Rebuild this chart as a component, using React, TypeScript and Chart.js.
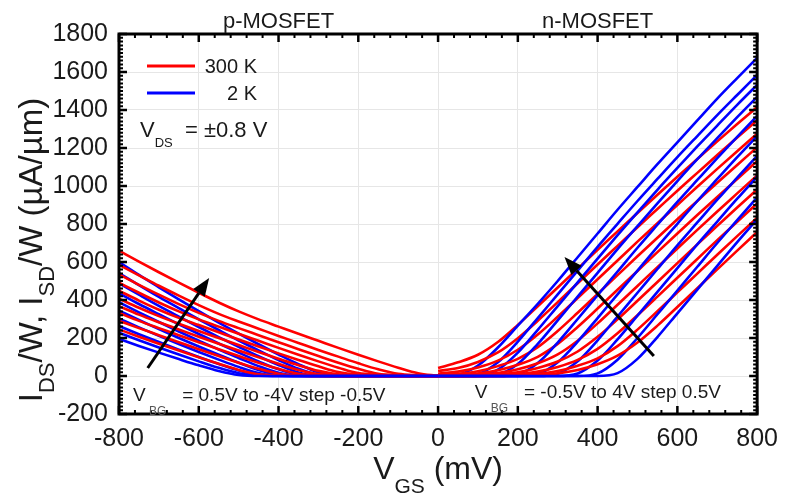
import { useEffect, useRef } from 'react';
import { Chart, registerables } from 'chart.js';

Chart.register(...registerables);

const FONT = "'Liberation Sans', Arial, Helvetica, sans-serif";
const RED = '#ff0000';
const BLUE = '#0000ff';

// Gate voltage samples (mV)
const X_N = [0, 50, 100, 150, 200, 250, 300, 350, 400, 450, 500, 550, 600, 650, 700, 750, 800];
const X_P = [-800, -750, -700, -650, -600, -550, -500, -450, -400, -350, -300, -250, -200, -150, -100, -50, 0];

// Back-gate voltages (V)
const VBG_N = ['-0.5', '0', '0.5', '1', '1.5', '2', '2.5', '3', '3.5', '4'];
const VBG_P = ['0.5', '0', '-0.5', '-1', '-1.5', '-2', '-2.5', '-3', '-3.5', '-4'];

// n-MOSFET, 2 K (uA/um), one row per VBG_N
const N_2K = [
  [0, 0, 0, 0, 0, 0, 0, 0, 0, 15, 90, 205, 330, 455, 580, 705, 825],
  [0, 0, 0, 0, 0, 0, 0, 0, 14, 86, 200, 325, 450, 575, 700, 820, 940],
  [0, 0, 0, 0, 0, 0, 0, 13, 81, 193, 318, 443, 568, 693, 813, 933, 1049],
  [0, 0, 0, 0, 0, 0, 12, 77, 188, 313, 438, 563, 688, 808, 928, 1044, 1159],
  [0, 0, 0, 0, 0, 10, 72, 181, 305, 430, 555, 680, 801, 921, 1037, 1152, 1263],
  [0, 0, 0, 0, 9, 68, 176, 300, 425, 550, 675, 796, 916, 1032, 1147, 1259, 1369],
  [0, 0, 0, 8, 63, 169, 293, 418, 543, 668, 789, 909, 1026, 1141, 1252, 1362, 1469],
  [0, 0, 2, 33, 123, 243, 368, 493, 618, 741, 861, 980, 1095, 1208, 1318, 1427, 1532],
  [0, 0, 10, 72, 181, 305, 430, 555, 680, 801, 921, 1037, 1152, 1263, 1373, 1479, 1584],
  [0, 7, 55, 150, 265, 380, 500, 625, 750, 875, 995, 1115, 1230, 1345, 1460, 1568, 1674],
];

// n-MOSFET, 300 K
const N_300K = [
  [0, 0, 0, 0, 2, 5, 14, 32, 62, 107, 176, 265, 363, 462, 561, 660, 758],
  [0, 0, 0, 1, 4, 11, 26, 54, 93, 157, 244, 341, 440, 539, 638, 736, 833],
  [0, 0, 1, 3, 9, 23, 48, 85, 143, 225, 320, 418, 517, 616, 715, 812, 908],
  [0, 0, 3, 8, 19, 42, 76, 129, 206, 298, 396, 495, 594, 693, 790, 887, 982],
  [0, 2, 6, 16, 35, 67, 114, 186, 277, 375, 474, 573, 671, 769, 866, 961, 1056],
  [1, 5, 13, 30, 59, 101, 169, 258, 355, 454, 553, 652, 750, 847, 942, 1037, 1131],
  [5, 11, 25, 52, 90, 152, 237, 333, 432, 531, 630, 728, 825, 921, 1017, 1111, 1204],
  [12, 23, 45, 81, 138, 218, 312, 410, 509, 608, 707, 804, 900, 996, 1090, 1183, 1275],
  [26, 42, 74, 124, 199, 291, 389, 488, 587, 685, 783, 879, 975, 1069, 1163, 1255, 1346],
  [42, 72, 112, 179, 269, 367, 466, 565, 664, 761, 858, 954, 1049, 1142, 1235, 1326, 1416],
];

// p-MOSFET, 2 K (|I|/W), one row per VBG_P
const P_2K = [
  [195, 158, 123, 89, 56, 26, 5, 0, 0, 0, 0, 0, 0, 0, 0, 0, 0],
  [228, 188, 150, 113, 77, 43, 15, 1, 0, 0, 0, 0, 0, 0, 0, 0, 0],
  [263, 220, 179, 139, 100, 63, 29, 5, 0, 0, 0, 0, 0, 0, 0, 0, 0],
  [302, 256, 211, 168, 126, 86, 48, 16, 1, 0, 0, 0, 0, 0, 0, 0, 0],
  [344, 295, 247, 200, 155, 112, 70, 32, 6, 0, 0, 0, 0, 0, 0, 0, 0],
  [388, 335, 284, 234, 186, 139, 95, 52, 17, 1, 0, 0, 0, 0, 0, 0, 0],
  [436, 379, 325, 272, 221, 171, 123, 77, 35, 6, 0, 0, 0, 0, 0, 0, 0],
  [488, 428, 369, 313, 258, 205, 154, 104, 58, 19, 1, 0, 0, 0, 0, 0, 0],
  [542, 478, 416, 357, 298, 242, 187, 135, 84, 38, 7, 0, 0, 0, 0, 0, 0],
  [600, 532, 467, 403, 341, 281, 223, 167, 113, 62, 20, 1, 0, 0, 0, 0, 0],
];

// p-MOSFET, 300 K
const P_300K = [
  [245, 207, 170, 134, 98, 64, 32, 9, 3, 1, 0, 0, 0, 0, 0, 0, 0],
  [290, 252, 215, 178, 141, 105, 70, 38, 12, 3, 1, 0, 0, 0, 0, 0, 0],
  [332, 290, 252, 215, 178, 141, 105, 70, 38, 12, 4, 1, 0, 0, 0, 0, 0],
  [368, 323, 283, 245, 207, 170, 134, 98, 64, 32, 10, 4, 2, 1, 0, 0, 0],
  [407, 359, 315, 275, 237, 200, 163, 126, 91, 57, 27, 9, 4, 2, 1, 0, 0],
  [449, 397, 349, 306, 268, 230, 192, 155, 119, 84, 51, 21, 7, 3, 1, 1, 0],
  [491, 438, 387, 340, 298, 260, 222, 185, 148, 112, 77, 44, 15, 6, 3, 1, 0],
  [535, 480, 428, 378, 332, 290, 252, 215, 178, 141, 105, 70, 38, 12, 4, 2, 1],
  [585, 530, 475, 423, 373, 327, 287, 249, 211, 174, 137, 102, 67, 35, 11, 4, 1],
  [660, 602, 546, 491, 438, 387, 340, 298, 260, 222, 185, 148, 112, 77, 44, 15, 1],
];

// Axes
const X_MIN = -800, X_MAX = 800, X_STEP = 200, X_MINOR = 40;
const Y_MIN = -200, Y_MAX = 1800, Y_STEP = 200, Y_MINOR = 20;

// Arrow annotations in data coordinates (mV, uA/um)
const ARROWS = [
  { from: [-728, 42], to: [-574, 516] },
  { from: [541, 105], to: [317, 626] },
];

type Part = [string, boolean];

function drawRich(ctx: CanvasRenderingContext2D, parts: Part[], x: number, y: number, align: 'left' | 'center' | 'right', size: number, subSize: number, subShift: number, color: string, subColor: string) {
  const widths = parts.map(([t, sub]) => {
    ctx.font = `${sub ? subSize : size}px ${FONT}`;
    return ctx.measureText(t).width;
  });
  const total = widths.reduce((a, b) => a + b, 0);
  let cx = align === 'center' ? x - total / 2 : align === 'right' ? x - total : x;
  ctx.textAlign = 'left';
  ctx.textBaseline = 'alphabetic';
  parts.forEach(([t, sub], i) => {
    ctx.font = `${sub ? subSize : size}px ${FONT}`;
    ctx.fillStyle = sub ? subColor : color;
    ctx.fillText(t, cx, sub ? y + subShift : y);
    cx += widths[i];
  });
}

function drawArrow(ctx: CanvasRenderingContext2D, x1: number, y1: number, x2: number, y2: number) {
  const ang = Math.atan2(y2 - y1, x2 - x1);
  const hl = 18, hw = 7;
  const bx = x2 - hl * Math.cos(ang), by = y2 - hl * Math.sin(ang);
  ctx.strokeStyle = '#000';
  ctx.lineWidth = 3;
  ctx.beginPath();
  ctx.moveTo(x1, y1);
  ctx.lineTo(bx, by);
  ctx.stroke();
  ctx.fillStyle = '#000';
  ctx.beginPath();
  ctx.moveTo(x2, y2);
  ctx.lineTo(bx + hw * Math.sin(ang), by - hw * Math.cos(ang));
  ctx.lineTo(bx - hw * Math.sin(ang), by + hw * Math.cos(ang));
  ctx.closePath();
  ctx.fill();
}

const framePlugin = {
  id: 'frame',
  afterDraw(chart: any) {
    const { ctx, chartArea: a, scales } = chart;
    const xs = scales.x, ys = scales.y;
    ctx.save();
    ctx.strokeStyle = '#000';
    // x ticks (top and bottom, inward)
    for (let v = X_MIN; v <= X_MAX; v += X_MINOR) {
      const major = v % X_STEP === 0;
      const len = major ? 8 : 4;
      ctx.lineWidth = major ? 2.5 : 2;
      const px = xs.getPixelForValue(v);
      ctx.beginPath();
      ctx.moveTo(px, a.bottom);
      ctx.lineTo(px, a.bottom - len);
      ctx.moveTo(px, a.top);
      ctx.lineTo(px, a.top + len);
      ctx.stroke();
    }
    // y ticks (left and right, inward)
    for (let v = Y_MIN; v <= Y_MAX; v += Y_MINOR) {
      const major = v % Y_STEP === 0;
      const len = major ? 8 : 4;
      ctx.lineWidth = major ? 2.5 : 2;
      const py = ys.getPixelForValue(v);
      ctx.beginPath();
      ctx.moveTo(a.left, py);
      ctx.lineTo(a.left + len, py);
      ctx.moveTo(a.right, py);
      ctx.lineTo(a.right - len, py);
      ctx.stroke();
    }
    // frame
    ctx.lineWidth = 3;
    ctx.strokeRect(a.left, a.top, a.right - a.left, a.bottom - a.top);

    // arrows
    ARROWS.forEach(({ from, to }) => {
      drawArrow(ctx, xs.getPixelForValue(from[0]), ys.getPixelForValue(from[1]), xs.getPixelForValue(to[0]), ys.getPixelForValue(to[1]));
    });

    const dark = '#1a1a1a';
    // top labels
    ctx.font = `22px ${FONT}`;
    ctx.fillStyle = dark;
    ctx.textAlign = 'center';
    ctx.textBaseline = 'alphabetic';
    ctx.fillText('p-MOSFET', xs.getPixelForValue(-400), a.top - 6);
    ctx.fillText('n-MOSFET', xs.getPixelForValue(400), a.top - 6);

    // legend
    const lx = a.left + 28;
    ctx.lineWidth = 3;
    ctx.strokeStyle = RED;
    ctx.beginPath(); ctx.moveTo(lx, a.top + 32); ctx.lineTo(lx + 48, a.top + 32); ctx.stroke();
    ctx.strokeStyle = BLUE;
    ctx.beginPath(); ctx.moveTo(lx, a.top + 59); ctx.lineTo(lx + 48, a.top + 59); ctx.stroke();
    ctx.font = `20px ${FONT}`;
    ctx.fillStyle = dark;
    ctx.textAlign = 'right';
    ctx.fillText('300 K', lx + 110, a.top + 39);
    ctx.fillText('2 K', lx + 110, a.top + 66);

    drawRich(ctx, [['V', false], ['DS', true], ['  = \u00b10.8 V', false]], a.left + 21, a.top + 103, 'left', 22, 13, 10, dark, dark);

    drawRich(ctx, [['V', false], [' BG', true], ['   = 0.5V to -4V step -0.5V', false]], a.left + 14, a.bottom - 13, 'left', 19, 12, 14, dark, '#555');
    drawRich(ctx, [['V', false], [' BG', true], ['   = -0.5V to 4V step 0.5V', false]], xs.getPixelForValue(92), a.bottom - 16, 'left', 19, 12, 14, dark, '#555');

    // x axis title
    drawRich(ctx, [['V', false], ['GS', true], [' (mV)', false]], (a.left + a.right) / 2, 479, 'center', 32, 21, 14, dark, dark);

    // y axis title (rotated)
    ctx.save();
    ctx.translate(42, 250);
    ctx.rotate(-Math.PI / 2);
    drawRich(ctx, [['I', false], ['DS', true], ['/W, I', false], ['SD', true], ['/W (\u00b5A/\u00b5m)', false]], 0, 0, 'center', 33, 22, 12, dark, dark);
    ctx.restore();

    ctx.restore();
  },
};

function buildDatasets() {
  const ds: any[] = [];
  const add = (xs: number[], ys: number[], color: string, label: string) => {
    ds.push({
      label,
      data: xs.map((x, i) => ({ x, y: ys[i] })),
      borderColor: color,
      backgroundColor: color,
      borderWidth: 2.6,
      pointRadius: 0,
      fill: false,
      cubicInterpolationMode: 'monotone',
    });
  };
  for (let k = 0; k < VBG_N.length; k++) {
    add(X_N, N_2K[k], BLUE, `n 2 K, VBG=${VBG_N[k]} V`);
    add(X_N, N_300K[k], RED, `n 300 K, VBG=${VBG_N[k]} V`);
  }
  for (let k = 0; k < VBG_P.length; k++) {
    add(X_P, P_2K[k], BLUE, `p 2 K, VBG=${VBG_P[k]} V`);
    add(X_P, P_300K[k], RED, `p 300 K, VBG=${VBG_P[k]} V`);
  }
  return ds;
}

export default function App() {
  const ref = useRef<HTMLCanvasElement>(null);
  useEffect(() => {
    if (!ref.current) return;
    const chart = new Chart(ref.current, {
      type: 'line',
      data: { datasets: buildDatasets() },
      options: {
        animation: false,
        responsive: false,
        devicePixelRatio: 1,
        layout: { padding: { top: 34, right: 27, left: 0, bottom: 0 } },
        plugins: { legend: { display: false }, tooltip: { enabled: false } },
        scales: {
          x: {
            type: 'linear',
            min: X_MIN,
            max: X_MAX,
            ticks: {
              stepSize: X_STEP,
              autoSkip: false,
              maxRotation: 0,
              padding: 10,
              color: '#1a1a1a',
              font: { size: 25, family: FONT },
              callback: (v: any) => String(v),
            },
            grid: { color: '#e6e6e6', lineWidth: 1, drawTicks: false },
            border: { display: false },
            afterFit: (s: any) => { s.height = 85; },
          },
          y: {
            type: 'linear',
            min: Y_MIN,
            max: Y_MAX,
            ticks: {
              stepSize: Y_STEP,
              autoSkip: false,
              padding: 11,
              color: '#1a1a1a',
              font: { size: 25, family: FONT },
              callback: (v: any) => String(v),
            },
            grid: { color: '#e6e6e6', lineWidth: 1, drawTicks: false },
            border: { display: false },
            afterFit: (s: any) => { s.width = 119; },
          },
        },
      },
      plugins: [framePlugin],
    } as any);
    return () => chart.destroy();
  }, []);
  return (
    <div style={{ position: 'fixed', left: 0, top: 0, width: 788, height: 499, background: '#fff' }}>
      <canvas ref={ref} width={788} height={499} style={{ display: 'block', width: 788, height: 499 }} />
    </div>
  );
}
